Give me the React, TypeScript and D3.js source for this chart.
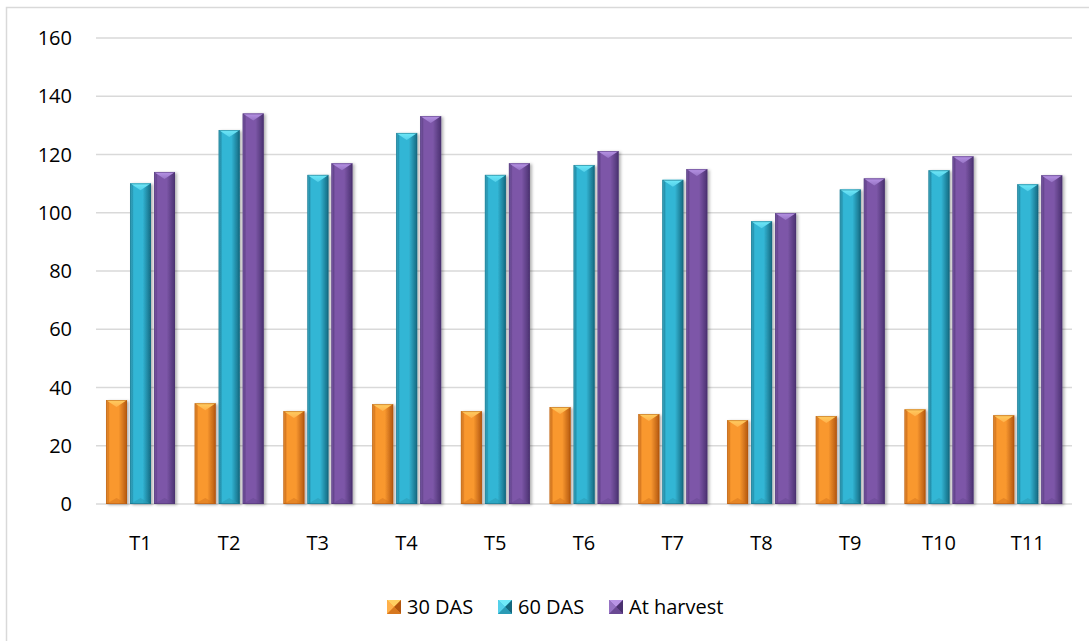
import React from "react";
import * as d3 from "d3";

const categories = ["T1", "T2", "T3", "T4", "T5", "T6", "T7", "T8", "T9", "T10", "T11"];
const seriesNames = ["30 DAS", "60 DAS", "At harvest"];
const das30 = [35.7, 34.6, 31.9, 34.3, 31.9, 33.3, 30.9, 28.8, 30.2, 32.5, 30.5];
const das60 = [110.1, 128.4, 113.0, 127.4, 113.0, 116.4, 111.3, 97.1, 108.0, 114.6, 109.8];
const atHarvest = [114.0, 134.1, 117.0, 133.2, 117.0, 121.2, 115.0, 99.9, 111.8, 119.4, 112.9];
const yTicks = [0, 20, 40, 60, 80, 100, 120, 140, 160];

const seriesValues = [das30, das60, atHarvest];
const palettes = [
  { edge: "#b2560f", mid: "#f9982f", top: "#ffcf62", bottom: "#d7781f", light: "#ffb04a" },
  { edge: "#14687f", mid: "#33b6d5", top: "#6fe9f8", bottom: "#2a9bb5", light: "#54d0ea" },
  { edge: "#4a3170", mid: "#7d57a8", top: "#b894e6", bottom: "#6a4993", light: "#9673c4" },
];

const W = 1089;
const H = 641;
const plotLeft = 96;
const plotRight = 1072;
const plotTop = 38;
const plotBottom = 504;
const font = "'Open Sans', sans-serif";

export default function App() {
  const x0 = d3.scaleBand<string>().domain(categories).range([plotLeft, plotRight]).padding(0);
  const x1 = d3.scaleBand<string>().domain(seriesNames).range([10, 79]).paddingInner(0.125).paddingOuter(0);
  const y = d3.scaleLinear().domain([0, 160]).range([plotBottom, plotTop]);
  const bw = x1.bandwidth();

  const legendX = [387, 498, 609];

  const bar = (x: number, yTop: number, w: number, si: number, key: string) => {
    const p = palettes[si];
    const h = plotBottom - yTop;
    const bev = Math.min(7, h / 2);
    return (
      <g key={key} filter="url(#shadow)">
        <rect x={x} y={yTop} width={w} height={h} fill={`url(#grad${si})`} />
        <polygon points={`${x},${yTop} ${x + w},${yTop} ${x + w / 2},${yTop + bev}`} fill={`url(#top${si})`} />
        <polygon points={`${x},${yTop} ${x + 1.5},${yTop + 1.5} ${x + 1.5},${plotBottom - 1.5} ${x},${plotBottom}`} fill={p.light} opacity={0.6} />
        <polygon points={`${x},${plotBottom} ${x + w},${plotBottom} ${x + w / 2},${plotBottom - Math.min(6, h / 2)}`} fill={p.bottom} opacity={0.55} />
        <rect x={x + 0.5} y={yTop + 0.5} width={w - 1} height={h - 1} fill="none" stroke={p.edge} strokeOpacity={0.5} strokeWidth={1} />
      </g>
    );
  };

  return (
    <svg width={W} height={H} style={{ position: "absolute", left: 0, top: 0, background: "#fff" }}>
      <defs>
        {palettes.map((p, i) => (
          <linearGradient key={`g${i}`} id={`grad${i}`} x1="0" x2="1" y1="0" y2="0">
            <stop offset="0" stopColor={p.edge} />
            <stop offset="0.18" stopColor={p.mid} />
            <stop offset="0.6" stopColor={p.mid} />
            <stop offset="1" stopColor={p.edge} />
          </linearGradient>
        ))}
        {palettes.map((p, i) => (
          <linearGradient key={`t${i}`} id={`top${i}`} x1="0" x2="0" y1="0" y2="1">
            <stop offset="0" stopColor={p.top} />
            <stop offset="1" stopColor={p.light} />
          </linearGradient>
        ))}
        <filter id="shadow" x="-30%" y="-5%" width="160%" height="110%">
          <feDropShadow dx="2" dy="1" stdDeviation="1.4" floodColor="#000" floodOpacity="0.3" />
        </filter>
      </defs>
      <rect x={6.5} y={7.5} width={1200} height={800} fill="none" stroke="#d9d9d9" strokeWidth={1.5} />
      {yTicks.map((t) => (
        <g key={`yt${t}`}>
          <line x1={plotLeft} x2={plotRight} y1={y(t)} y2={y(t)} stroke="#d9d9d9" strokeWidth={1.5} />
          <text x={72} y={y(t) + 7} textAnchor="end" fontFamily={font} fontSize={20} fill="#000">
            {t}
          </text>
        </g>
      ))}
      {categories.map((c, ci) => (
        <g key={c}>
          {seriesNames.map((s, si) =>
            bar(x0(c)! + x1(s)!, y(seriesValues[si][ci]), bw, si, `${c}-${s}`)
          )}
          <text x={x0(c)! + x0.bandwidth() / 2} y={550} textAnchor="middle" fontFamily={font} fontSize={20} fill="#000">
            {c}
          </text>
        </g>
      ))}
      {seriesNames.map((s, si) => {
        const p = palettes[si];
        const lx = legendX[si];
        const ly = 600;
        const sz = 14;
        return (
          <g key={`lg${s}`}>
            <rect x={lx} y={ly} width={sz} height={sz} fill={p.mid} />
            <polygon points={`${lx},${ly} ${lx + sz},${ly} ${lx + sz / 2},${ly + sz / 2}`} fill={p.top} />
            <polygon points={`${lx},${ly} ${lx + sz / 2},${ly + sz / 2} ${lx},${ly + sz}`} fill={p.light} />
            <polygon points={`${lx + sz},${ly} ${lx + sz / 2},${ly + sz / 2} ${lx + sz},${ly + sz}`} fill={p.edge} />
            <polygon points={`${lx},${ly + sz} ${lx + sz / 2},${ly + sz / 2} ${lx + sz},${ly + sz}`} fill={p.bottom} />
            <text x={lx + 20} y={ly + 14} fontFamily={font} fontSize={20} fill="#000">
              {s}
            </text>
          </g>
        );
      })}
    </svg>
  );
}
